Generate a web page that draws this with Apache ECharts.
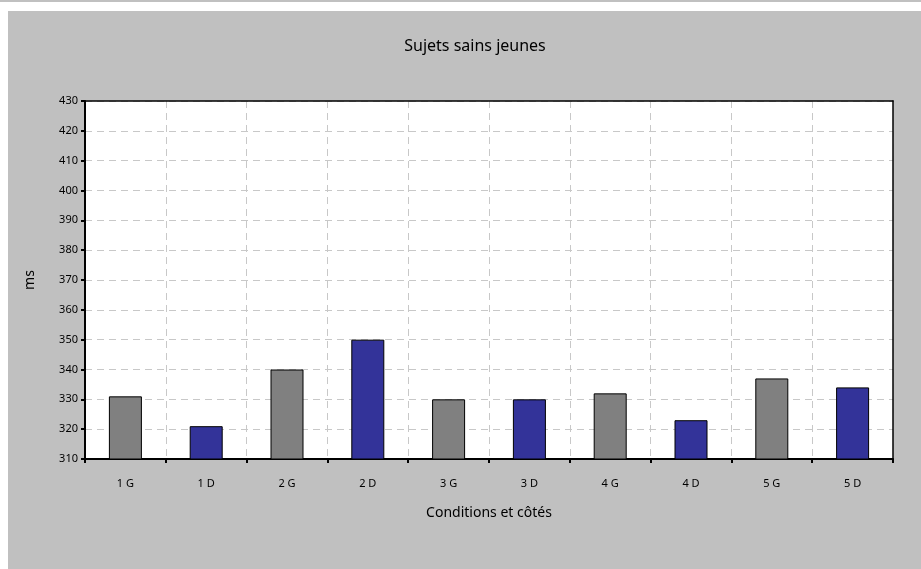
<!DOCTYPE html>
<html>
<head>
<meta charset="utf-8">
<script src="https://cdn.jsdelivr.net/npm/echarts@6/dist/echarts.min.js"></script>
<style>
html,body{margin:0;padding:0;background:#ffffff;}
#c{width:921px;height:569px;}
</style>
</head>
<body>
<div id="c"></div>
<script>
const categories = ['1 G','1 D','2 G','2 D','3 G','3 D','4 G','4 D','5 G','5 D'];
const values = [331, 321, 340, 350, 330, 330, 332, 323, 337, 334];
const sides = ['G','D','G','D','G','D','G','D','G','D'];
const yTicks = [310, 320, 330, 340, 350, 360, 370, 380, 390, 400, 410, 420, 430];
const sideColors = { G: '#808080', D: '#333399' };

const FONT = '"Comic Sans MS", "Noto Sans", sans-serif';
const chart = echarts.init(document.getElementById('c'), null, { renderer: 'canvas' });

const gridLine = { show: true, interval: 0, lineStyle: { color: '#c8c8c8', type: [7, 5], width: 1 } };

chart.setOption({
  backgroundColor: 'transparent',
  animation: false,
  graphic: [
    { type: 'rect', z: -10, shape: { x: 0, y: 0, width: 921, height: 2 }, style: { fill: '#c0c0c0' } },
    { type: 'rect', z: -10, shape: { x: 8, y: 11, width: 913, height: 558 }, style: { fill: '#c0c0c0' } }
  ],
  title: {
    text: 'Sujets sains jeunes',
    left: 470, top: 33, textAlign: 'center',
    textStyle: { fontFamily: FONT, fontSize: 16, fontWeight: 'normal', color: '#000' }
  },
  grid: {
    left: 85, top: 101, width: 808, height: 358,
    show: true, backgroundColor: '#ffffff', borderWidth: 0
  },
  xAxis: [{
    type: 'category',
    data: categories,
    boundaryGap: true,
    name: 'Conditions et côtés',
    nameLocation: 'middle',
    nameGap: 47,
    nameTextStyle: { fontFamily: FONT, fontSize: 14, color: '#000' },
    axisLine: { lineStyle: { color: '#000', width: 2 } },
    axisTick: { show: true, length: 4, interval: 0, lineStyle: { color: '#000', width: 2 } },
    axisLabel: { interval: 0, margin: 19, fontFamily: FONT, fontSize: 11, color: '#000' },
    splitLine: gridLine
  }, {
    type: 'category',
    data: categories,
    position: 'top',
    axisLine: { show: true, onZero: false, lineStyle: { color: '#000', width: 1.5 } },
    axisTick: { show: false },
    axisLabel: { show: false },
    splitLine: { show: false }
  }],
  yAxis: [{
    type: 'value',
    min: yTicks[0], max: yTicks[yTicks.length - 1], interval: 10,
    name: 'ms',
    nameLocation: 'middle',
    nameGap: 48,
    nameTextStyle: { fontFamily: FONT, fontSize: 14, color: '#000' },
    axisLine: { show: true, lineStyle: { color: '#000', width: 2 } },
    axisTick: { show: true, length: 4, lineStyle: { color: '#000', width: 2 } },
    axisLabel: { margin: 7, fontFamily: FONT, fontSize: 11, color: '#000' },
    splitLine: { show: true, lineStyle: { color: '#c8c8c8', type: [7, 5], width: 1 } }
  }, {
    type: 'value',
    position: 'right',
    min: yTicks[0], max: yTicks[yTicks.length - 1], interval: 10,
    axisLine: { show: true, onZero: false, lineStyle: { color: '#000', width: 1.5 } },
    axisTick: { show: false },
    axisLabel: { show: false },
    splitLine: { show: false }
  }],
  series: [{
    type: 'bar',
    xAxisIndex: 0,
    yAxisIndex: 0,
    barWidth: 33,
    data: values.map((v, i) => ({
      value: v,
      itemStyle: { color: sideColors[sides[i]], borderColor: '#000', borderWidth: 1 }
    }))
  }]
});
</script>
</body>
</html>
